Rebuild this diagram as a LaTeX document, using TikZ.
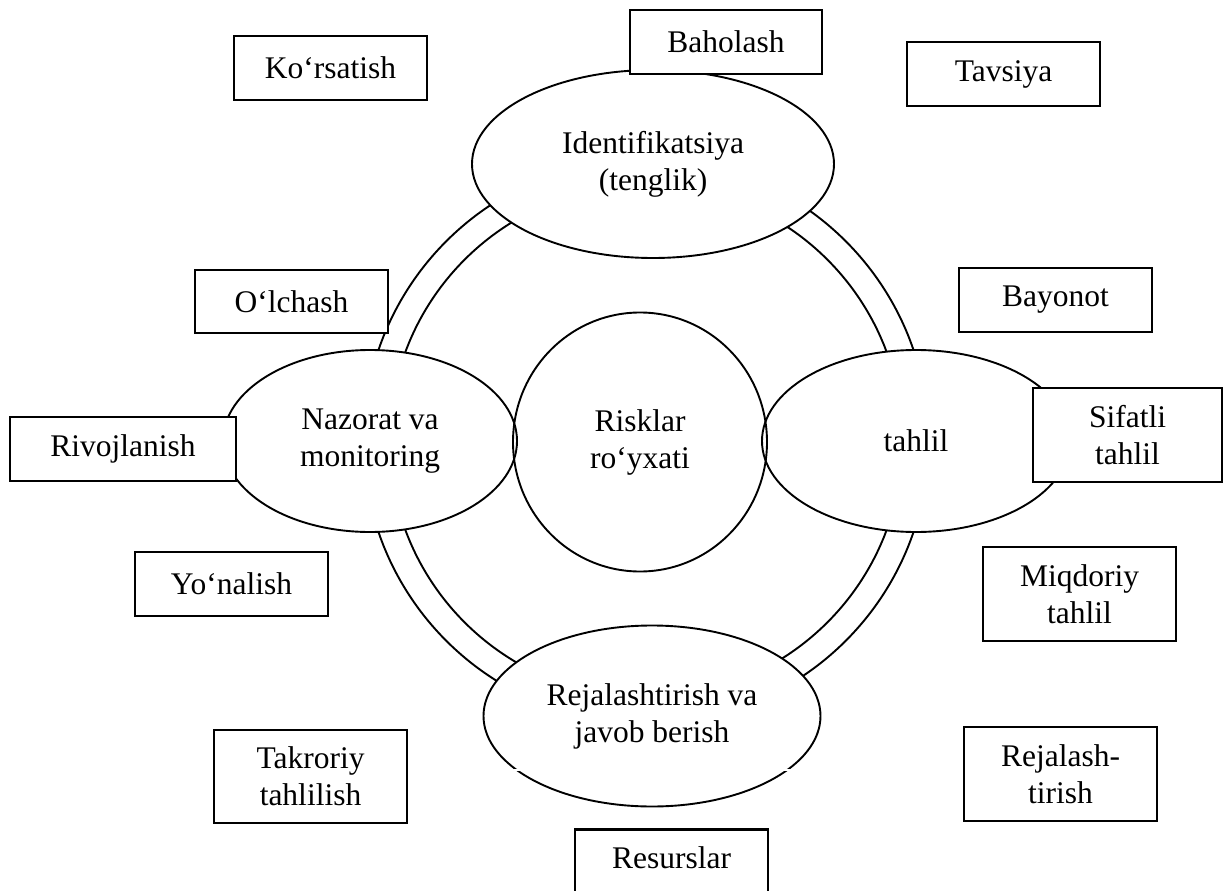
\documentclass[tikz,border=0pt]{standalone}
\usepackage{fontspec}
\setmainfont{Liberation Serif}
\usetikzlibrary{shapes.geometric}
\newcommand\diagfont{\fontsize{31.5}{37}\selectfont}
\begin{document}
\begin{tikzpicture}[x=1pt,y=-1pt,
  box/.style={draw, line width=2.5pt, fill=white, rectangle, inner sep=0pt, align=center, font=\diagfont},
  oval/.style={draw, line width=1.9pt, fill=white, ellipse, inner sep=0pt, align=center, font=\diagfont},
  ring/.style={draw, line width=1.9pt, circle, inner sep=0pt},
  label/.style={inner sep=0pt, align=center, font=\diagfont}]
\useasboundingbox (0,0) rectangle (1224,891);
% double ring
\node (outer) [ring, minimum size=565pt] at (646,441) {};
\node (inner) [ring, minimum size=513pt] at (646,441) {};
% ellipses
\node (ident) [oval, minimum width=362pt, minimum height=188pt] at (653,164) {Identifikatsiya\\(tenglik)};
\node (naz) [oval, minimum width=294pt, minimum height=182pt] at (370,441) {Nazorat va\\monitoring};
\node (tah) [oval, minimum width=308pt, minimum height=182pt] at (916,441) {tahlil};
\node (rej) [oval, minimum width=337pt, minimum height=181pt] at (652,716) {Rejalashtirish va\\javob berish};
\draw[white, line width=2pt] (514,770) -- (791,770);
% centre
\node (risk) [draw, line width=1.9pt, ellipse, inner sep=0pt, align=center, font=\diagfont,
  minimum width=254pt, minimum height=259pt] at (640,442) {Risklar\\ro‘yxati};
% boxes
\node (kor) [box, minimum width=193pt, minimum height=64pt] at (330.5,68) {Ko‘rsatish};
\node (bah) [box, minimum width=192pt, minimum height=64pt] at (726,42) {Baholash};
\node (tav) [box, minimum width=193pt, minimum height=64pt] at (1003.5,74) {Tavsiya};
\node (olc) [box, minimum width=193pt, minimum height=63pt] at (291.5,301.5) {O‘lchash};
\node (bay) [box, minimum width=193pt, minimum height=64pt] at (1055.5,300) {Bayonot};
\node (riv) [box, minimum width=226pt, minimum height=64pt] at (123,449) {Rivojlanish};
\node (sif) [box, minimum width=189pt, minimum height=94pt] at (1127.5,435) {Sifatli\\tahlil};
\node (yon) [box, minimum width=193pt, minimum height=64pt] at (231.5,584) {Yo‘nalish};
\node (miq) [box, minimum width=193pt, minimum height=94pt] at (1079.5,594) {Miqdoriy\\tahlil};
\node (tak) [box, minimum width=193pt, minimum height=93pt] at (310.5,776.5) {Takroriy\\tahlilish};
\node (rjb) [box, minimum width=193pt, minimum height=94pt] at (1060.5,774) {Rejalash-\\tirish};
\node (res) [box, minimum width=193pt, minimum height=100pt, anchor=north] at (671.5,828) {};
\node (resT) [label] at (671.5,858) {Resurslar};
\end{tikzpicture}
\end{document}
